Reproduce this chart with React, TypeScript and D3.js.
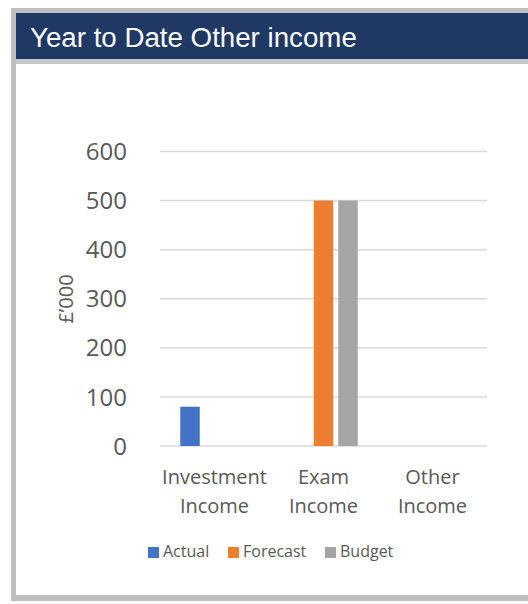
import React from "react";
import * as d3 from "d3";

const categories = [["Investment", "Income"], ["Exam", "Income"], ["Other", "Income"]];
const seriesNames = ["Actual", "Forecast", "Budget"];
const actualValues = [80, 0, 0];
const forecastValues = [0, 500, 0];
const budgetValues = [0, 500, 0];
const yTicks = [0, 100, 200, 300, 400, 500, 600];
const colors = ["#4472c4", "#ed7d31", "#a5a5a5"];
const title = "Year to Date Other income";
const yTitle = "£’000";

const W = 528;
const H = 604;

export default function App() {
  const catKeys = categories.map((c) => c.join(" "));
  const values = [actualValues, forecastValues, budgetValues];
  const x = d3.scaleBand<string>().domain(catKeys).range([160, 487]).paddingInner(0).paddingOuter(0);
  const bw = x.bandwidth();
  const gapSide = (bw - 68.5) / 2;
  const xs = d3
    .scaleBand<string>()
    .domain(seriesNames)
    .range([gapSide, bw - gapSide])
    .paddingInner(5 / 24.5)
    .paddingOuter(0);
  const y = d3.scaleLinear().domain([0, 600]).range([446, 151.5]);
  const legendX = [148, 228, 325];
  const font = "'Open Sans', sans-serif";
  return (
    <svg
      width={W}
      height={H}
      style={{ position: "absolute", left: 0, top: 0 }}
    >
      <rect x={0} y={0} width={W} height={H} fill="#ffffff" />
      {/* card border */}
      <rect x={11} y={8} width={W} height={593} fill="#bfbfbf" />
      <rect x={16} y={13} width={W} height={582} fill="#ffffff" />
      {/* header */}
      <rect x={16} y={13} width={W} height={46} fill="#203864" />
      <rect x={16} y={59} width={W} height={5} fill="#c6c6c6" />
      <text
        x={30}
        y={47}
        fill="#ffffff"
        fontFamily="'Liberation Sans', Arial, sans-serif"
        fontSize={27.7}
      >
        {title}
      </text>
      {/* gridlines */}
      {yTicks.map((t) => (
        <line
          key={t}
          x1={160}
          x2={487}
          y1={y(t)}
          y2={y(t)}
          stroke="#d9d9d9"
          strokeWidth={1.5}
        />
      ))}
      {/* y tick labels */}
      {yTicks.map((t) => (
        <text
          key={"l" + t}
          x={127}
          y={y(t)}
          dy="0.36em"
          textAnchor="end"
          fill="#595959"
          fontFamily={font}
          fontSize={24}
        >
          {t}
        </text>
      ))}
      <text
        transform={`translate(66,299) rotate(-90)`}
        textAnchor="middle"
        dy="0.36em"
        fill="#595959"
        fontFamily={font}
        fontSize={20}
      >
        {yTitle}
      </text>
      {/* bars */}
      {catKeys.map((c, ci) =>
        seriesNames.map((s, si) => {
          const v = values[si][ci];
          if (!v) return null;
          return (
            <rect
              key={c + s}
              x={(x(c) as number) + (xs(s) as number)}
              width={xs.bandwidth()}
              y={y(v)}
              height={y(0) - y(v)}
              fill={colors[si]}
            />
          );
        })
      )}
      {/* category labels */}
      {categories.map((lines, ci) => (
        <text
          key={"c" + ci}
          textAnchor="middle"
          fill="#595959"
          fontFamily={font}
          fontSize={20}
        >
          {lines.map((ln, li) => (
            <tspan key={li} x={(x(catKeys[ci]) as number) + bw / 2} y={483.5 + li * 29}>
              {ln}
            </tspan>
          ))}
        </text>
      ))}
      {/* legend */}
      {seriesNames.map((s, si) => (
        <g key={"lg" + s} transform={`translate(${legendX[si]},547)`}>
          <rect x={0} y={0} width={11} height={11} fill={colors[si]} />
          <text x={15} y={10} fill="#595959" fontFamily={font} fontSize={16}>
            {s}
          </text>
        </g>
      ))}
    </svg>
  );
}
